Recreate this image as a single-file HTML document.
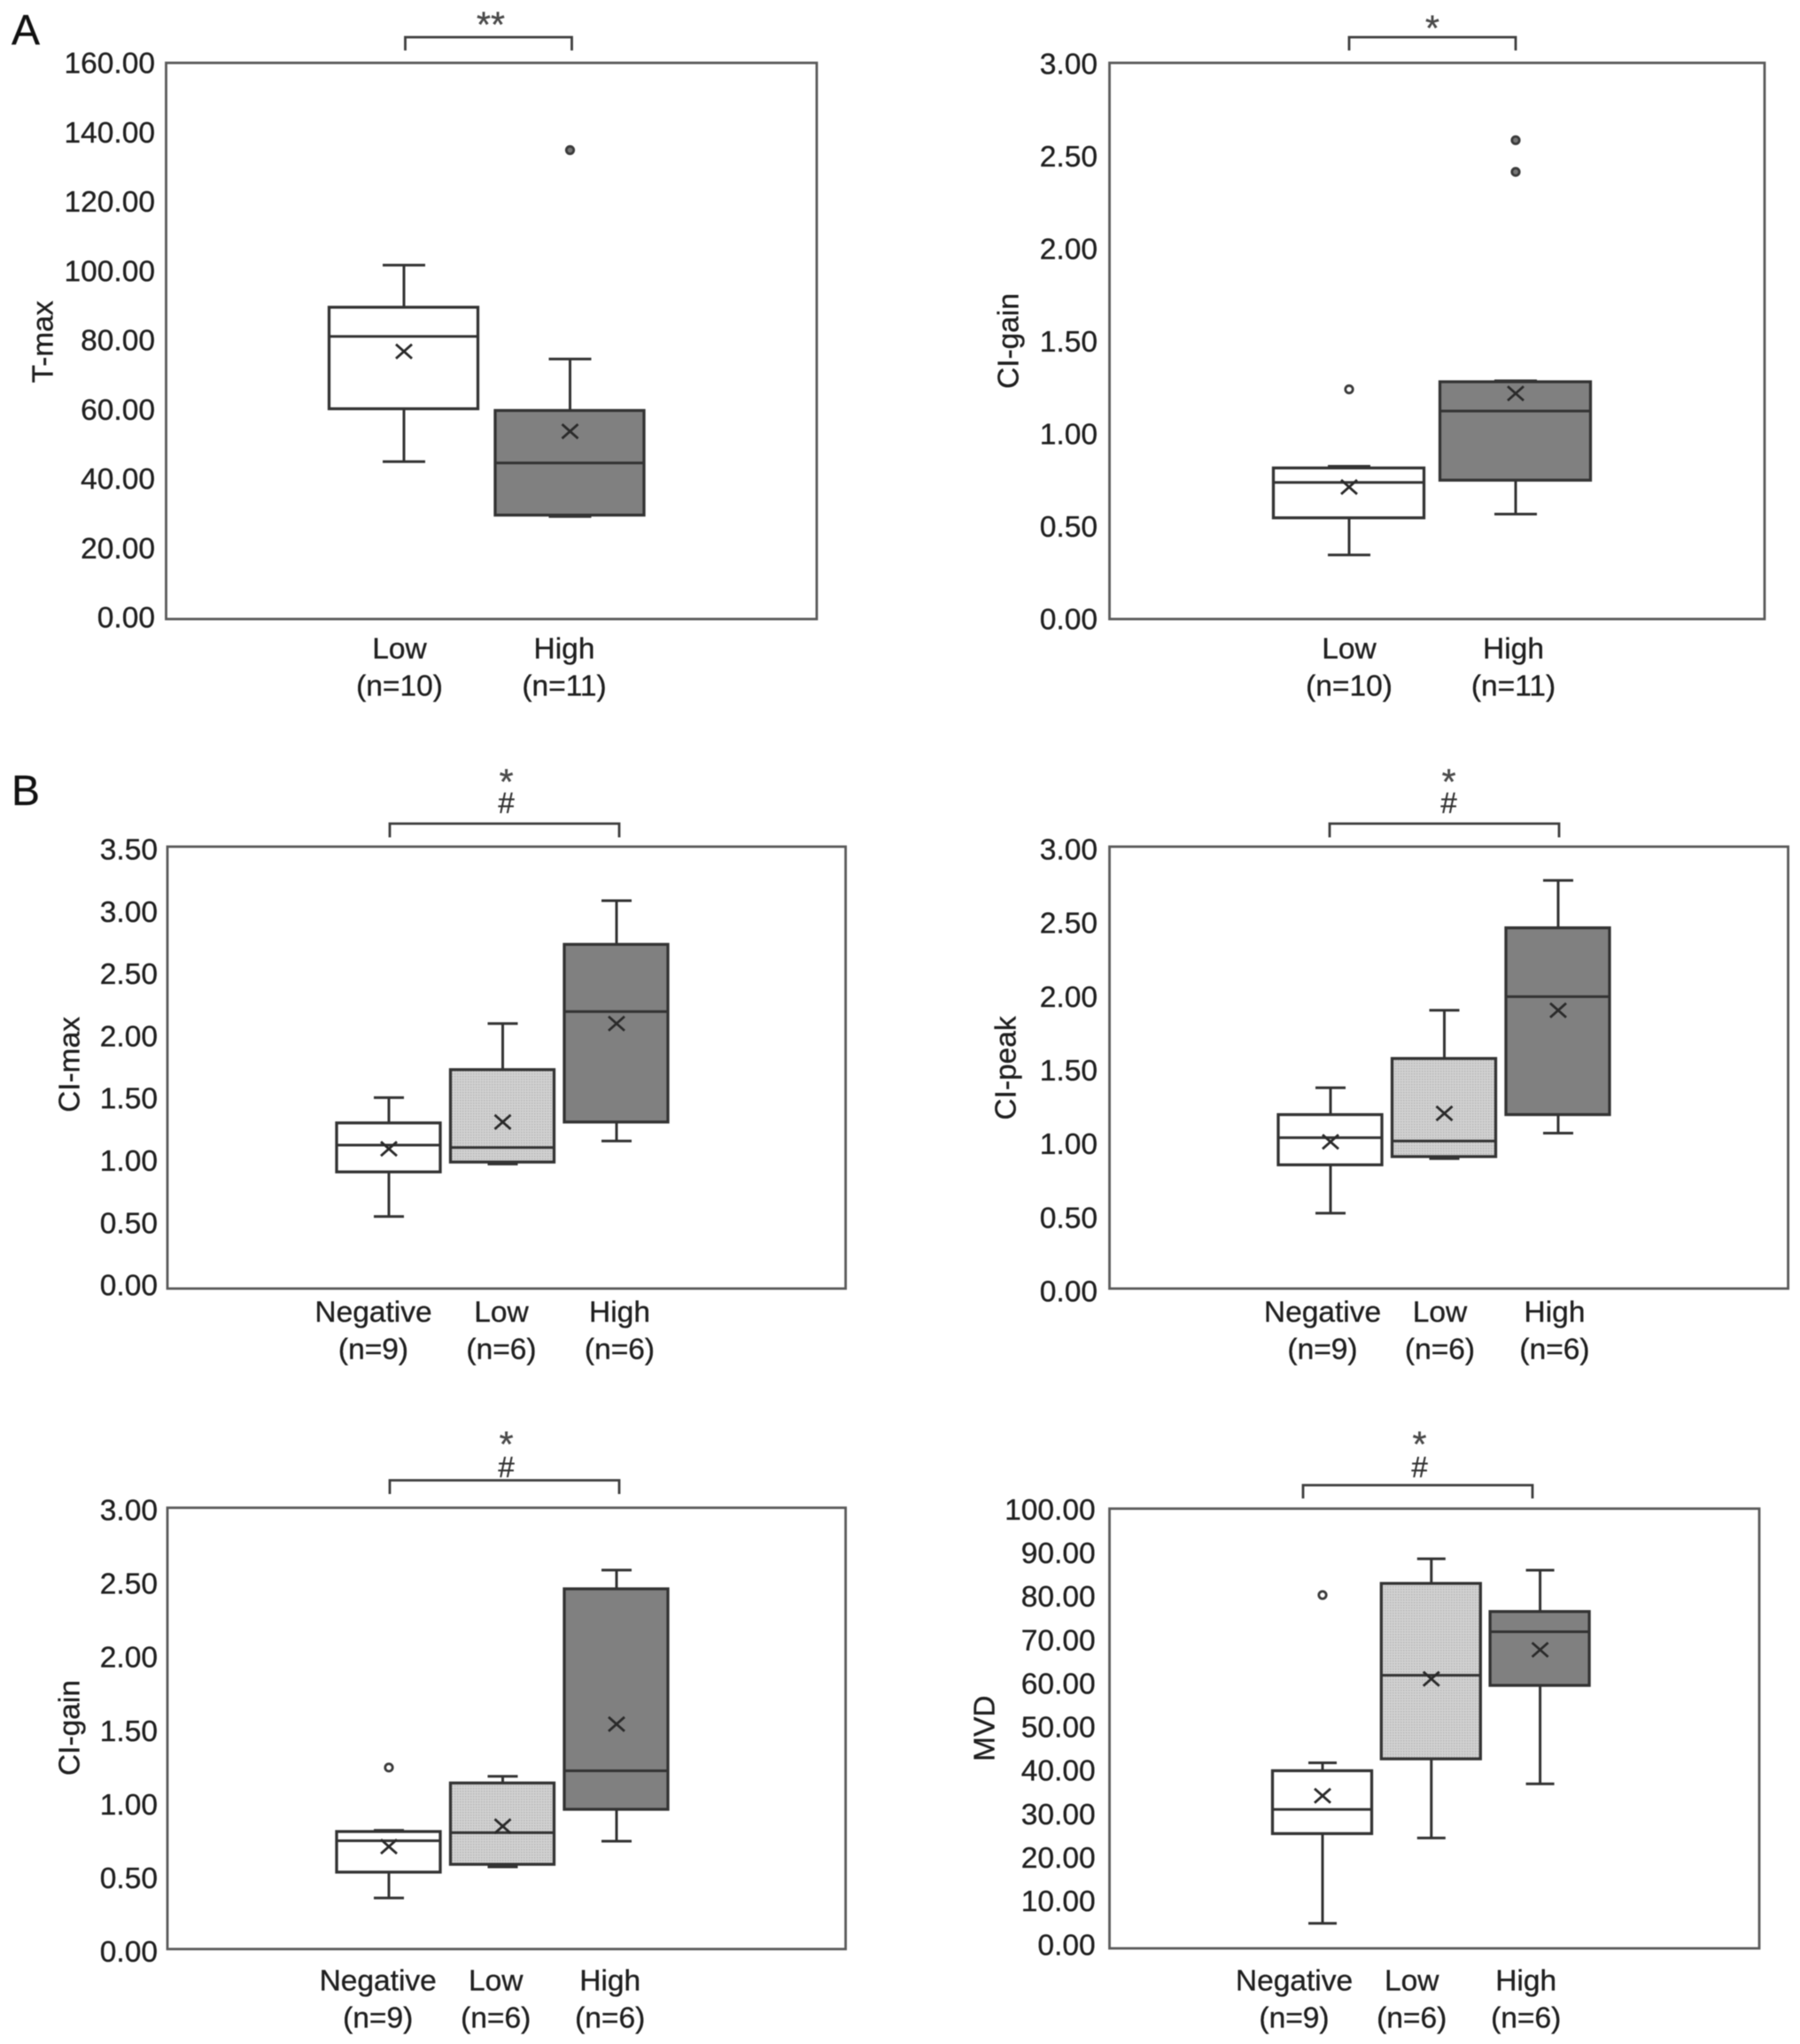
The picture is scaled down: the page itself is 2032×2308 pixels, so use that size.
<!DOCTYPE html>
<html lang="en">
<head>
<meta charset="utf-8">
<title>Box plots by group</title>
<style>
html,body{margin:0;padding:0;background:#fff;}
#figure{display:block;width:2032px;height:2308px;background:#fff;font-family:"Liberation Sans",Arial,sans-serif;filter:blur(0.6px);}
text{fill:#1f1f1f;stroke:#1f1f1f;stroke-width:.35px;}
</style>
</head>
<body>
<svg id="figure" xmlns="http://www.w3.org/2000/svg" width="2032" height="2308" viewBox="0 0 2032 2308">
  <defs>
    <pattern id="dot-fill" width="3" height="3" patternUnits="userSpaceOnUse">
      <rect width="3" height="3" fill="#d2d2d2"></rect>
      <rect width="1.4" height="1.4" fill="#b4b4b4"></rect>
    </pattern>
  </defs>
  <text x="29" y="50" font-size="48" text-anchor="middle" style="fill:#111">A</text>
  <text x="29" y="909" font-size="48" text-anchor="middle" style="fill:#111">B</text>
</svg>
<script>
// Category labels
const twoGroupNames = ['Low', 'High'];
const threeGroupNames = ['Negative', 'Low', 'High'];
const twoGroupCounts = ['(n=10)', '(n=11)'];
const threeGroupCounts = ['(n=9)', '(n=6)', '(n=6)'];

// Tick labels
const tmaxTicks = ['160.00', '140.00', '120.00', '100.00', '80.00', '60.00', '40.00', '20.00', '0.00'];
const ciGainTicks = ['3.00', '2.50', '2.00', '1.50', '1.00', '0.50', '0.00'];
const ciMaxTicks = ['3.50', '3.00', '2.50', '2.00', '1.50', '1.00', '0.50', '0.00'];
const ciPeakTicks = ['3.00', '2.50', '2.00', '1.50', '1.00', '0.50', '0.00'];
const ciGainBTicks = ['3.00', '2.50', '2.00', '1.50', '1.00', '0.50', '0.00'];
const mvdTicks = ['100.00', '90.00', '80.00', '70.00', '60.00', '50.00', '40.00', '30.00', '20.00', '10.00', '0.00'];

// Series values: [whisker low, q1, median, q3, whisker high, mean]
const tmaxLow = [45.3, 60.5, 81.3, 89.7, 101.8, 77];
const tmaxHigh = [29.5, 29.9, 44.9, 60, 74.8, 54];
const ciGainLow = [0.346, 0.546, 0.737, 0.815, 0.824, 0.712];
const ciGainHigh = [0.566, 0.749, 1.122, 1.28, 1.285, 1.217];
const ciMaxNegative = [0.571, 0.924, 1.136, 1.312, 1.512, 1.107];
const ciMaxLow = [0.986, 1.002, 1.117, 1.734, 2.099, 1.319];
const ciMaxHigh = [1.169, 1.319, 2.194, 2.726, 3.072, 2.099];
const ciPeakNegative = [0.512, 0.84, 1.024, 1.181, 1.363, 0.996];
const ciPeakLow = [0.882, 0.896, 1.002, 1.562, 1.889, 1.189];
const ciPeakHigh = [1.055, 1.181, 1.982, 2.449, 2.771, 1.889];
const ciGainBNegative = [0.347, 0.523, 0.736, 0.799, 0.807, 0.697];
const ciGainBLow = [0.559, 0.576, 0.791, 1.129, 1.174, 0.835];
const ciGainBHigh = [0.733, 0.95, 1.212, 2.449, 2.576, 1.529];
const mvdNegative = [5.7, 26.1, 31.6, 40.4, 42.2, 34.7];
const mvdLow = [25.1, 43.1, 62.1, 83, 88.6, 61.3];
const mvdHigh = [37.4, 59.8, 72, 76.6, 86, 67.9];

// Outliers per category
const tmaxOutliers = [[], [134.9]];
const ciGainOutliers = [[1.239], [2.583, 2.412]];
const ciMaxOutliers = [[], [], []];
const ciPeakOutliers = [[], [], []];
const ciGainBOutliers = [[1.234], [], []];
const mvdOutliers = [[80.35], [], []];

const SVG_NS = 'http://www.w3.org/2000/svg';
const figure = document.getElementById('figure');
const INK = '#333333';

function make(parent, tag, props) {
  const node = document.createElementNS(SVG_NS, tag);
  for (const key in props) node.setAttribute(key, props[key]);
  parent.appendChild(node);
  return node;
}

function drawPanel(p) {
  const yScale = v => p.bottom - (v / p.max) * (p.bottom - p.top);
  const tickScale = v => p.tickBottom - (v / p.max) * (p.tickBottom - p.tickTop);
  const xScale = i => p.xStart + i * p.xStep;
  const labelScale = i => p.labelStart + i * p.labelStep + (i === p.names.length - 1 ? p.labelLastDx : 0);

  const group = make(figure, 'g', {});
  
  

  const frame = make(group, 'rect', { x: p.left, y: p.top, width: p.right - p.left, height: p.bottom - p.top, fill: '#fff', stroke: '#5a5a5a', 'stroke-width': 2.8 });
  
  

  p.ticks.forEach(label => {
    const t = make(group, 'text', { x: p.tickRight - 1, y: tickScale(Number(label)) - 1.5, dy: '.36em', 'text-anchor': 'end', 'font-size': 33.5 });
    t.textContent = label;
    
    
  });

  const title = make(group, 'text', { transform: 'translate(' + (p.titleX - 1.5) + ',' + (p.titleY - 1) + ') rotate(-90)', dy: '.36em', 'text-anchor': 'middle', 'font-size': 33.5 });
  title.textContent = p.title;
  
  

  p.names.forEach((name, i) => {
    const x = labelScale(i);
    const a = make(group, 'text', { x: x - 1, y: p.labelY - 1.5, dy: '.36em', 'text-anchor': 'middle', 'font-size': 33.5 });
    a.textContent = name;
    
    
    const b = make(group, 'text', { x: x - 1, y: p.labelY + 40.5, dy: '.36em', 'text-anchor': 'middle', 'font-size': 33.5 });
    b.textContent = p.counts[i];
    
    
  });

  p.series.forEach((stats, i) => {
    const fill = p.fills[i];
    const cx = xScale(i);
    const box = make(group, 'g', {});
    
    
    const stroke = { stroke: INK, 'stroke-width': 3, fill: 'none' };
    const yLo = yScale(stats[0]), yQ1 = yScale(stats[1]), yMed = yScale(stats[2]), yQ3 = yScale(stats[3]), yHi = yScale(stats[4]), yMean = yScale(stats[5]);
    make(box, 'line', Object.assign({ x1: cx, x2: cx, y1: yHi, y2: yQ3 }, stroke));
    make(box, 'line', Object.assign({ x1: cx, x2: cx, y1: yQ1, y2: yLo }, stroke));
    make(box, 'line', Object.assign({ x1: cx - p.cap, x2: cx + p.cap, y1: yHi, y2: yHi }, stroke));
    make(box, 'line', Object.assign({ x1: cx - p.cap, x2: cx + p.cap, y1: yLo, y2: yLo }, stroke));
    make(box, 'rect', { x: cx - p.half - 0.5, y: yQ3, width: p.half * 2, height: yQ1 - yQ3, fill: fill, stroke: INK, 'stroke-width': 3.3 });
    make(box, 'line', Object.assign({ x1: cx - p.half, x2: cx + p.half, y1: yMed, y2: yMed }, stroke));
    const mean = make(box, 'path', { d: 'M' + (cx - 9) + ' ' + (yMean - 8) + 'L' + (cx + 9) + ' ' + (yMean + 8) + 'M' + (cx + 9) + ' ' + (yMean - 8) + 'L' + (cx - 9) + ' ' + (yMean + 8), stroke: '#2a2a2a', 'stroke-width': 2.8, fill: 'none' });
    
    
    p.outliers[i].forEach(v => {
      const dot = make(box, 'circle', { cx: cx, cy: yScale(v), r: 4.2, fill: fill === '#ffffff' ? '#ffffff' : '#777777', stroke: '#3a3a3a', 'stroke-width': 2.8 });
      
      
    });
  });

  const b = p.bracket;
  const bracket = make(group, 'path', { d: 'M' + b.x1 + ' ' + b.bottom + 'V' + b.top + 'H' + b.x2 + 'V' + b.bottom, fill: 'none', stroke: '#3e3e3e', 'stroke-width': 2.8 });
  
  

  const star = make(group, 'text', { x: b.markX, y: b.starY - 3, dy: '.57em', 'text-anchor': 'middle', 'font-size': 41 });
  star.textContent = b.star;
  star.style.fill = '#4a4a4a';
  star.style.stroke = '#4a4a4a';
  
  

  if (b.hashY) {
    const hash = make(group, 'text', { x: b.markX, y: b.hashY - 1, dy: '.36em', 'text-anchor': 'middle', 'font-size': 33 });
    hash.textContent = '#';
    hash.style.fill = '#333';
    hash.style.stroke = '#333';
    
    
  }
}

const W = '#ffffff', L = 'url(#dot-fill)', D = '#808080';

drawPanel({ id: 'a-tmax', title: 'T-max', max: 160, left: 187.5, right: 922, top: 71, bottom: 699, tickTop: 72, tickBottom: 698, tickRight: 176,
  titleX: 49, titleY: 387, ticks: tmaxTicks, names: twoGroupNames, counts: twoGroupCounts, series: [tmaxLow, tmaxHigh], outliers: tmaxOutliers, fills: [W, D],
  xStart: 456, xStep: 187.5, half: 84, cap: 24, labelStart: 452, labelStep: 186, labelLastDx: 0, labelY: 733,
  bracket: { x1: 457.5, x2: 645.5, top: 42, bottom: 57, markX: 554, starY: 21, star: '**' } });

drawPanel({ id: 'a-ci-gain', title: 'CI-gain', max: 3, left: 1252.5, right: 1992, top: 71, bottom: 699, tickTop: 73, tickBottom: 700, tickRight: 1240,
  titleX: 1139, titleY: 386, ticks: ciGainTicks, names: twoGroupNames, counts: twoGroupCounts, series: [ciGainLow, ciGainHigh], outliers: ciGainOutliers, fills: [W, D],
  xStart: 1523, xStep: 188, half: 85, cap: 24, labelStart: 1524, labelStep: 185.5, labelLastDx: 0, labelY: 733,
  bracket: { x1: 1523, x2: 1711, top: 42, bottom: 57, markX: 1617, starY: 25, star: '*' } });

drawPanel({ id: 'b-ci-max', title: 'CI-max', max: 3.5, left: 189, right: 954.6, top: 956, bottom: 1455, tickTop: 960, tickBottom: 1452, tickRight: 179,
  titleX: 79, titleY: 1203, ticks: ciMaxTicks, names: threeGroupNames, counts: threeGroupCounts, series: [ciMaxNegative, ciMaxLow, ciMaxHigh], outliers: ciMaxOutliers, fills: [W, L, D],
  xStart: 439, xStep: 128.5, half: 58.5, cap: 17, labelStart: 422.5, labelStep: 144.5, labelLastDx: -11, labelY: 1482,
  bracket: { x1: 440, x2: 699, top: 930, bottom: 945.5, markX: 571.6, starY: 876, hashY: 907, star: '*' } });

drawPanel({ id: 'b-ci-peak', title: 'CI-peak', max: 3, left: 1252.5, right: 2018.6, top: 956, bottom: 1455, tickTop: 960, tickBottom: 1459, tickRight: 1240,
  titleX: 1136, titleY: 1207, ticks: ciPeakTicks, names: threeGroupNames, counts: threeGroupCounts, series: [ciPeakNegative, ciPeakLow, ciPeakHigh], outliers: ciPeakOutliers, fills: [W, L, D],
  xStart: 1502, xStep: 128.5, half: 58.5, cap: 17, labelStart: 1494, labelStep: 132.5, labelLastDx: -3, labelY: 1482,
  bracket: { x1: 1501, x2: 1760, top: 930, bottom: 945.5, markX: 1635.6, starY: 876, hashY: 907, star: '*' } });

drawPanel({ id: 'b-ci-gain', title: 'CI-gain', max: 3, left: 189, right: 954.6, top: 1702.5, bottom: 2200.8, tickTop: 1706, tickBottom: 2204.5, tickRight: 179,
  titleX: 79, titleY: 1952, ticks: ciGainBTicks, names: threeGroupNames, counts: threeGroupCounts, series: [ciGainBNegative, ciGainBLow, ciGainBHigh], outliers: ciGainBOutliers, fills: [W, L, D],
  xStart: 439, xStep: 128.5, half: 58.5, cap: 17, labelStart: 427.7, labelStep: 133, labelLastDx: -4, labelY: 2237,
  bracket: { x1: 440, x2: 699, top: 1671.5, bottom: 1687, markX: 571.6, starY: 1624, hashY: 1657, star: '*' } });

drawPanel({ id: 'b-mvd', title: 'MVD', max: 100, left: 1252.5, right: 1986, top: 1703.5, bottom: 2200, tickTop: 1705.4, tickBottom: 2196.7, tickRight: 1237.6,
  titleX: 1112, titleY: 1952.6, ticks: mvdTicks, names: threeGroupNames, counts: threeGroupCounts, series: [mvdNegative, mvdLow, mvdHigh], outliers: mvdOutliers, fills: [W, L, D],
  xStart: 1493, xStep: 122.8, half: 56, cap: 16, labelStart: 1462, labelStep: 132.7, labelLastDx: -3.7, labelY: 2237,
  bracket: { x1: 1471, x2: 1730, top: 1677, bottom: 1692, markX: 1602.5, starY: 1624, hashY: 1657, star: '*' } });
</script>
</body>
</html>
